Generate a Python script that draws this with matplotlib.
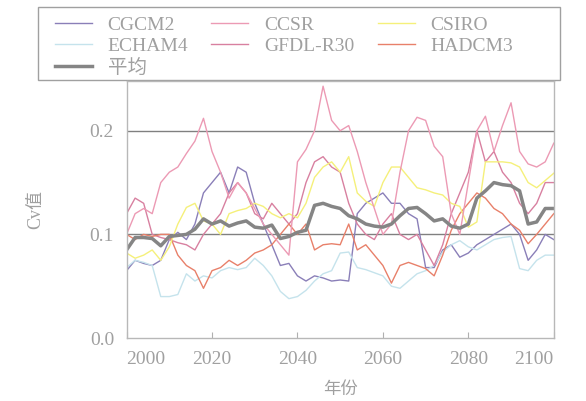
import numpy as np
import matplotlib
matplotlib.use("Agg")
import matplotlib.pyplot as plt
from matplotlib.patches import Rectangle

# Cv values of each model, every 2 years
years = np.arange(2000, 2101, 2)

cgcm2 = [0.065, 0.075, 0.072, 0.070, 0.075, 0.095, 0.102, 0.095, 0.110, 0.140,
         0.150, 0.160, 0.140, 0.165, 0.160, 0.130, 0.110, 0.090, 0.070, 0.072,
         0.060, 0.055, 0.060, 0.058, 0.055, 0.056, 0.055, 0.120, 0.130, 0.135,
         0.140, 0.130, 0.130, 0.120, 0.115, 0.068, 0.068, 0.085, 0.090, 0.078,
         0.082, 0.090, 0.095, 0.100, 0.105, 0.110, 0.100, 0.075, 0.085, 0.100,
         0.095]
ccsr = [0.100, 0.120, 0.125, 0.120, 0.150, 0.160, 0.165, 0.178, 0.190, 0.212,
        0.180, 0.160, 0.135, 0.150, 0.140, 0.125, 0.110, 0.100, 0.090, 0.080,
        0.170, 0.182, 0.200, 0.243, 0.210, 0.200, 0.205, 0.180, 0.150, 0.125,
        0.100, 0.110, 0.160, 0.200, 0.213, 0.210, 0.185, 0.175, 0.120, 0.100,
        0.150, 0.200, 0.214, 0.180, 0.205, 0.227, 0.180, 0.168, 0.165, 0.170,
        0.188]
csiro = [0.082, 0.077, 0.080, 0.085, 0.075, 0.088, 0.110, 0.126, 0.130, 0.113,
         0.110, 0.100, 0.120, 0.123, 0.125, 0.130, 0.127, 0.120, 0.116, 0.120,
         0.116, 0.130, 0.155, 0.165, 0.170, 0.160, 0.175, 0.140, 0.132, 0.127,
         0.150, 0.165, 0.165, 0.155, 0.145, 0.143, 0.140, 0.138, 0.130, 0.127,
         0.107, 0.112, 0.170, 0.170, 0.170, 0.169, 0.165, 0.150, 0.145, 0.152,
         0.159]
echam4 = [0.068, 0.075, 0.073, 0.070, 0.040, 0.040, 0.042, 0.062, 0.055, 0.060,
          0.058, 0.065, 0.068, 0.066, 0.068, 0.077, 0.070, 0.060, 0.045, 0.038,
          0.040, 0.046, 0.055, 0.062, 0.065, 0.082, 0.083, 0.068, 0.066, 0.063,
          0.060, 0.050, 0.048, 0.055, 0.062, 0.065, 0.070, 0.083, 0.090, 0.094,
          0.088, 0.085, 0.090, 0.095, 0.097, 0.098, 0.067, 0.065, 0.075, 0.080,
          0.080]
gfdl = [0.120, 0.135, 0.130, 0.100, 0.097, 0.095, 0.092, 0.090, 0.085, 0.100,
        0.110, 0.120, 0.140, 0.150, 0.140, 0.120, 0.115, 0.130, 0.120, 0.110,
        0.120, 0.150, 0.170, 0.175, 0.165, 0.160, 0.130, 0.110, 0.100, 0.095,
        0.110, 0.120, 0.100, 0.095, 0.100, 0.085, 0.070, 0.090, 0.120, 0.140,
        0.160, 0.200, 0.170, 0.180, 0.160, 0.150, 0.130, 0.120, 0.130, 0.150,
        0.150]
hadcm3 = [0.100, 0.095, 0.100, 0.098, 0.100, 0.100, 0.080, 0.070, 0.065, 0.048,
          0.065, 0.068, 0.075, 0.070, 0.075, 0.082, 0.085, 0.090, 0.100, 0.110,
          0.100, 0.110, 0.085, 0.090, 0.091, 0.090, 0.110, 0.085, 0.090, 0.080,
          0.070, 0.053, 0.070, 0.073, 0.070, 0.067, 0.060, 0.080, 0.104, 0.120,
          0.130, 0.140, 0.135, 0.125, 0.120, 0.110, 0.104, 0.091, 0.100, 0.110,
          0.120]
mean = [0.085, 0.097, 0.097, 0.096, 0.089, 0.098, 0.099, 0.100, 0.105, 0.115,
        0.110, 0.113, 0.108, 0.111, 0.113, 0.107, 0.106, 0.109, 0.096, 0.098,
        0.102, 0.104, 0.128, 0.130, 0.127, 0.125, 0.118, 0.115, 0.110, 0.108,
        0.107, 0.110, 0.118, 0.125, 0.126, 0.120, 0.113, 0.115, 0.108, 0.106,
        0.110, 0.135, 0.142, 0.150, 0.148, 0.147, 0.142, 0.110, 0.112, 0.125,
        0.125]

xticks = [2000, 2020, 2040, 2060, 2080, 2100]
yticks = [0.0, 0.1, 0.2]

txt = '#a0a0a0'
serif = ['Liberation Serif', 'Noto Sans CJK SC']

fig = plt.figure(figsize=(5.86, 4.01), dpi=100)
ax = fig.add_axes([0.216, 0.157, 0.729, 0.641])

ax.plot(years, cgcm2, color='#8a7fb8', lw=1.0, label='CGCM2')
ax.plot(years, echam4, color='#c5e3ec', lw=1.0, label='ECHAM4')
ax.plot(years, gfdl, color='#d880a0', lw=1.0, label='GFDL-R30')
ax.plot(years, hadcm3, color='#e8806a', lw=1.0, label='HADCM3')
ax.plot(years, csiro, color='#f5f07a', lw=1.0, label='CSIRO')
ax.plot(years, ccsr, color='#ec9ab4', lw=1.0, label='CCSR')
ax.plot(years, mean, color='#858585', lw=2.5, label='平均')

for v in [0.1, 0.2]:
    ax.axhline(v, color='#808080', lw=1.0, zorder=0)

ax.set_xlim(2000, 2100)
ax.set_ylim(0, 0.248)
ax.set_xticks(xticks)
ax.set_yticks(yticks)
ax.set_xticklabels([str(x) for x in xticks])
ax.set_yticklabels(['%.1f' % y for y in yticks])
for lab in ax.get_xticklabels():
    lab.set_family(serif)
for lab in ax.get_yticklabels():
    lab.set_family(serif)
ax.get_xticklabels()[0].set_ha('left')
ax.get_xticklabels()[-1].set_ha('right')
ax.tick_params(axis='x', direction='in', length=4, color='#b0b0b0',
               labelsize=14, labelcolor=txt, pad=9)
ax.tick_params(axis='y', length=0, labelsize=14, labelcolor=txt, pad=9)
for s in ax.spines.values():
    s.set_color('#b8b8b8')
    s.set_linewidth(1.0)

ax.set_xlabel('年份', family='Noto Sans CJK SC', fontsize=12.5, color=txt, labelpad=9)
ax.set_ylabel('Cv值', family=serif, fontsize=13, color=txt, labelpad=33)

# legend laid out row-wise like the original, box drawn separately
h, l = ax.get_legend_handles_labels()
order = ['CGCM2', 'ECHAM4', '平均', 'CCSR', 'GFDL-R30', 'CSIRO', 'HADCM3']
hh = [h[l.index(n)] for n in order]
leg = fig.legend(hh, order, loc='upper left', ncol=3, frameon=False,
                 bbox_to_anchor=(0.0939, 0.960),
                 prop={'family': serif, 'size': 14},
                 handlelength=1.9, handletextpad=0.8, labelspacing=0.2,
                 borderaxespad=0, borderpad=0, columnspacing=1.2)
for t in leg.get_texts():
    t.set_color(txt)
fig.patches.append(Rectangle((0.0648, 0.8005), 0.8908, 0.182,
                             transform=fig.transFigure, fill=True,
                             facecolor='white', edgecolor='#a0a0a0',
                             lw=1.0, zorder=-1))

fig.savefig('out.png', dpi=100)
